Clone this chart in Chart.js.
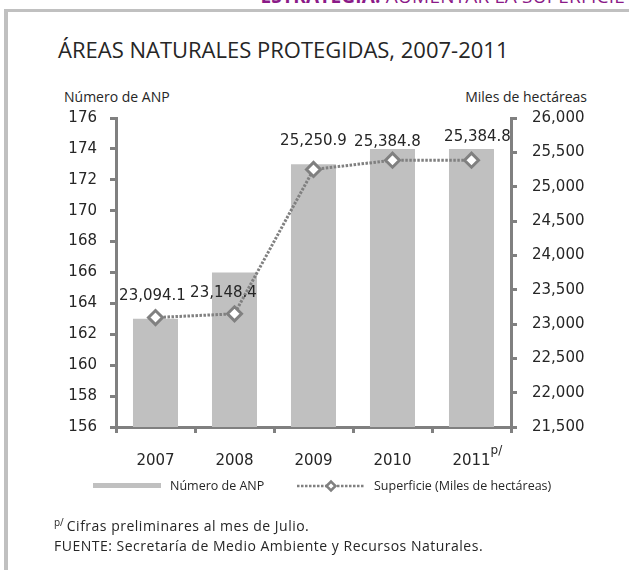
<!DOCTYPE html>
<html>
<head>
<meta charset="utf-8">
<script src="https://cdn.jsdelivr.net/npm/chart.js@4.4.1/dist/chart.umd.min.js"></script>
<style>
  html, body { margin: 0; padding: 0; background: #fff; }
  #page { position: relative; width: 629px; height: 570px; overflow: hidden; background: #fff;
          font-family: 'Open Sans', sans-serif; color: #262626; }
  .abs { position: absolute; white-space: nowrap; }
  #frameTop { left: 4px; top: 9px; width: 625px; height: 3px; background: #c0c0c0; }
  #frameLeft { left: 4px; top: 9px; width: 4px; height: 561px; background: #c0c0c0; }
  #banner { right: 4px; top: -17px; font-size: 19px; line-height: 27px; color: #8b1a88; letter-spacing: 0.2px; }
  #banner b { font-weight: 700; }
  #title { left: 58px; top: 34px; font-size: 22px; line-height: 30px; }
  #yLeftTitle { left: 64px; top: 87px; font-size: 14px; line-height: 20px; }
  #yRightTitle { right: 42px; top: 87px; font-size: 14px; line-height: 20px; }
  #note1 { left: 54px; top: 512px; font-size: 14px; line-height: 20px; letter-spacing: 0.5px; }
  #note1 sup { font-size: 10px; vertical-align: 5px; margin-right: 3px; letter-spacing: 0; }
  #note2 { left: 54px; top: 536px; font-size: 14px; line-height: 20px; letter-spacing: 0.5px; }
  canvas { position: absolute; left: 0; top: 0; }
</style>
</head>
<body>
<div id="page">
  <div id="banner" class="abs"><b>ESTRATEGIA:</b> AUMENTAR LA SUPERFICIE</div>
  <div id="frameTop" class="abs"></div>
  <div id="frameLeft" class="abs"></div>
  <div id="title" class="abs">ÁREAS NATURALES PROTEGIDAS, 2007-2011</div>
  <div id="yLeftTitle" class="abs">Número de ANP</div>
  <div id="yRightTitle" class="abs">Miles de hectáreas</div>
  <canvas id="chart" width="629" height="570"></canvas>
  <div id="note1" class="abs"><sup>p/</sup>Cifras preliminares al mes de Julio.</div>
  <div id="note2" class="abs">FUENTE: Secretaría de Medio Ambiente y Recursos Naturales.</div>
</div>
<script>
// Years shown on the category axis and the note attached to the last one
const years = ['2007', '2008', '2009', '2010', '2011'];
const yearNotes = ['', '', '', '', 'p/'];

// Number of protected natural areas (bars, left axis)
const anpCount = [163, 166, 173, 174, 174];

// Protected surface in thousands of hectares (line, right axis)
const surface = [23094.1, 23148.4, 25250.9, 25384.8, 25384.8];

// Axis ranges
const anpAxis = { min: 156, max: 176, step: 2 };
const surfaceAxis = { min: 21500, max: 26000, step: 500 };

const seriesNames = ['Número de ANP', 'Superficie (Miles de hectáreas)'];

const AXIS_GRAY = '#808080';
const BAR_GRAY = '#c0c0c0';
const TEXT = '#262626';
const NUM_FONT = '"DejaVu Sans", sans-serif';

const fmt1 = v => v.toLocaleString('en-US', { minimumFractionDigits: 1, maximumFractionDigits: 1 });

// Value labels: bar counts centred in each bar, surface values above each marker
const valueLabels = {
  id: 'valueLabels',
  afterDatasetsDraw(chart, args, opts) {
    const ctx = chart.ctx;
    ctx.save();
    ctx.font = '15px ' + NUM_FONT;
    ctx.fillStyle = TEXT;
    ctx.textAlign = 'center';
    ctx.textBaseline = 'middle';
    const bars = chart.getDatasetMeta(0).data;
    bars.forEach((bar, i) => {
      ctx.fillText(String(chart.data.datasets[0].data[i]), bar.x, (bar.y + bar.base) / 2);
    });
    const pts = chart.getDatasetMeta(1).data;
    pts.forEach((pt, i) => {
      const s = opts.shift[i];
      ctx.fillText(fmt1(chart.data.datasets[1].data[i]), pt.x + s[0], pt.y - s[1]);
    });
    ctx.restore();
  }
};

// Superscript notes after category labels
const tickNotes = {
  id: 'tickNotes',
  afterDraw(chart) {
    const ctx = chart.ctx;
    const xs = chart.scales.x;
    ctx.save();
    ctx.fillStyle = TEXT;
    ctx.textBaseline = 'middle';
    ctx.textAlign = 'left';
    yearNotes.forEach((note, i) => {
      if (!note) return;
      ctx.font = '15px ' + NUM_FONT;
      const w = ctx.measureText(years[i]).width;
      ctx.font = '12px ' + NUM_FONT;
      ctx.fillText(note, xs.getPixelForValue(i) + w / 2, xs.top + 24);
    });
    ctx.restore();
  }
};

// Legend drawn beneath the axis
const bottomLegend = {
  id: 'bottomLegend',
  afterDraw(chart, args, opts) {
    const ctx = chart.ctx;
    const y = opts.y;
    const bar = chart.data.datasets[0];
    const line = chart.data.datasets[1];
    ctx.save();
    ctx.fillStyle = bar.backgroundColor;
    ctx.fillRect(opts.barX, y - 3, opts.swatch, 5);

    ctx.strokeStyle = line.borderColor;
    ctx.lineWidth = 2.5;
    ctx.setLineDash(line.borderDash);
    ctx.beginPath();
    ctx.moveTo(opts.lineX, y);
    ctx.lineTo(opts.lineX + opts.swatch, y);
    ctx.stroke();
    ctx.setLineDash([]);
    const cx = opts.lineX + opts.swatch / 2, r = 4.5;
    ctx.beginPath();
    ctx.moveTo(cx - r, y); ctx.lineTo(cx, y - r); ctx.lineTo(cx + r, y); ctx.lineTo(cx, y + r); ctx.closePath();
    ctx.fillStyle = '#fff';
    ctx.fill();
    ctx.lineWidth = 2.5;
    ctx.stroke();

    ctx.font = '12.5px "Open Sans", sans-serif';
    ctx.fillStyle = TEXT;
    ctx.textBaseline = 'middle';
    ctx.textAlign = 'left';
    ctx.fillText(bar.label, opts.barX + opts.swatch + 9, y);
    ctx.fillText(line.label, opts.lineX + opts.swatch + 9, y);
    ctx.restore();
  }
};

const tickFont = { family: NUM_FONT, size: 15 };

new Chart(document.getElementById('chart'), {
  data: {
    labels: years,
    datasets: [
      {
        type: 'bar',
        label: seriesNames[0],
        data: anpCount,
        yAxisID: 'yN',
        backgroundColor: BAR_GRAY,
        borderWidth: 0,
        categoryPercentage: 1,
        barPercentage: 0.57,
        order: 2
      },
      {
        type: 'line',
        label: seriesNames[1],
        data: surface,
        yAxisID: 'yS',
        borderColor: AXIS_GRAY,
        borderWidth: 3,
        borderDash: [2.5, 1.5],
        tension: 0,
        fill: false,
        pointStyle: 'rectRot',
        pointRadius: 7,
        pointBorderWidth: 3,
        pointBackgroundColor: '#fff',
        pointBorderColor: AXIS_GRAY,
        order: 1
      }
    ]
  },
  options: {
    responsive: false,
    animation: false,
    devicePixelRatio: 1,
    locale: 'en-US',
    layout: { padding: { left: 40, right: 38, top: 118, bottom: 93 } },
    plugins: {
      legend: { display: false },
      tooltip: { enabled: false },
      valueLabels: { shift: [[-3, 21], [-11, 21], [0, 28], [-5, 18], [6, 23]] },
      bottomLegend: { y: 486, barX: 93, lineX: 297, swatch: 68 }
    },
    scales: {
      x: {
        grid: { offset: true, drawOnChartArea: false, drawTicks: true, tickLength: 6, color: AXIS_GRAY, lineWidth: 3 },
        border: { display: true, color: AXIS_GRAY, width: 3 },
        ticks: { font: tickFont, color: TEXT, padding: 19, maxRotation: 0 },
        afterFit(s) { s.height = 50; }
      },
      yN: {
        type: 'linear',
        position: 'left',
        min: anpAxis.min,
        max: anpAxis.max,
        grid: { drawOnChartArea: false, drawTicks: true, tickLength: 6, color: AXIS_GRAY, lineWidth: 3 },
        border: { display: true, color: AXIS_GRAY, width: 3 },
        ticks: { stepSize: anpAxis.step, font: tickFont, color: TEXT, padding: 13 },
        afterFit(s) { s.width = 76; }
      },
      yS: {
        type: 'linear',
        position: 'right',
        min: surfaceAxis.min,
        max: surfaceAxis.max,
        grid: { drawOnChartArea: false, drawTicks: true, tickLength: 6, color: AXIS_GRAY, lineWidth: 3 },
        border: { display: true, color: AXIS_GRAY, width: 3 },
        ticks: { stepSize: surfaceAxis.step, font: tickFont, color: TEXT, padding: 15,
                 callback: v => v.toLocaleString('en-US') },
        afterFit(s) { s.width = 80; }
      }
    }
  },
  plugins: [valueLabels, tickNotes, bottomLegend]
});
</script>
</body>
</html>
